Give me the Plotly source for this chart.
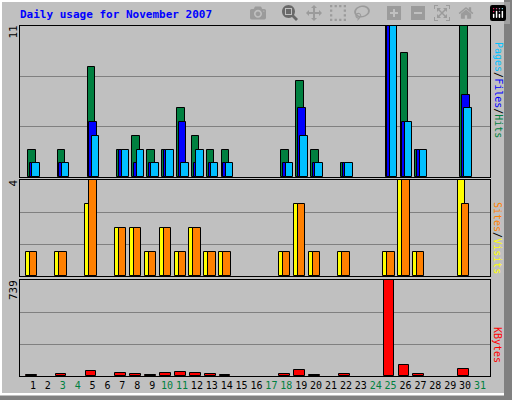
import plotly.graph_objects as go
from plotly.subplots import make_subplots

days = list(range(1, 32))
weekend = [3, 4, 10, 11, 17, 18, 24, 25, 31]

hits = [2,0,2,0,8,0,2,3,2,2,5,3,2,2,0,0,0,2,7,2,0,1,0,0,11,9,2,0,0,11,0]
files = [1,0,1,0,4,0,2,1,1,2,4,1,1,1,0,0,0,1,5,1,0,1,0,0,11,4,2,0,0,6,0]
pages = [1,0,1,0,3,0,2,2,1,2,1,2,1,1,0,0,0,1,3,1,0,1,0,0,11,4,2,0,0,5,0]
visits = [1,0,1,0,3,0,2,2,1,2,1,2,1,1,0,0,0,1,3,1,0,1,0,0,1,4,1,0,0,4,0]
sites = [1,0,1,0,4,0,2,2,1,2,1,2,1,1,0,0,0,1,3,1,0,1,0,0,1,4,1,0,0,3,0]
kbytes = [11,0,19,0,40,0,24,19,11,24,32,24,19,11,0,0,0,19,49,11,0,19,0,0,739,84,19,0,0,57,0]

BG = "#C0C0C0"
FONT = "DejaVu Sans Mono"
W, H = 512, 400

def yd(top, bot):
    return [1 - bot / H, 1 - top / H]

fig = make_subplots(rows=3, cols=1, shared_xaxes=True)
line = dict(color="black", width=1)

def bars(vals, color, offset, width, row):
    # days with no traffic get no bar at all
    vals = [v if v else None for v in vals]
    fig.add_trace(go.Bar(x=days, y=vals, offset=offset, width=width,
                         marker=dict(color=color, line=line)), row=row, col=1)

bars(hits, "#008040", -0.33, 0.5, 1)
bars(files, "#0000FF", -0.22, 0.52, 1)
bars(pages, "#00C0FF", -0.05, 0.5, 1)
bars(visits, "#FFFF00", -0.5, 0.5, 2)
bars(sites, "#FF8000", -0.23, 0.5, 2)
bars(kbytes, "#FF0000", -0.47, 0.72, 3)

maxes = [11, 4, 739]
doms = [yd(26, 177), yd(180, 276), yd(280, 376)]
for i in range(3):
    m = maxes[i]
    fig.update_yaxes(row=i + 1, col=1, domain=doms[i], range=[0, m * 1.0],
                     tickvals=[m / 3, 2 * m / 3], showticklabels=False,
                     gridcolor="#808080", gridwidth=1, zeroline=False,
                     showline=True, linecolor="black", mirror=True, ticks="")
    fig.add_annotation(xref="paper", yref="paper", x=13 / W, y=doms[i][1] + 0.005,
                       text=str(m), textangle=-90, showarrow=False,
                       xanchor="center", yanchor="top",
                       font=dict(family=FONT, size=11, color="black"))

ticktext = ['<span style="color:#008040">%d</span>' % d if d in weekend else str(d) for d in days]
fig.update_xaxes(domain=[20 / W, 490 / W], range=[0.13, 31.67], showgrid=False,
                 showline=True, linecolor="black", mirror=True, ticks="",
                 zeroline=False)
fig.update_xaxes(row=3, col=1, tickvals=days, ticktext=ticktext, tickangle=0,
                 tickfont=dict(family=FONT, size=10, color="black"))

def side(text, ymid):
    fig.add_annotation(xref="paper", yref="paper", x=498 / W, y=ymid, text=text,
                       textangle=90, showarrow=False, xanchor="center",
                       yanchor="middle", font=dict(family=FONT, size=10))

side('<span style="color:#00C0FF">Pages</span><span style="color:black">/</span>'
     '<span style="color:#0000FF">Files</span><span style="color:black">/</span>'
     '<span style="color:#008040">Hits</span>', 1 - 90 / H)
side('<span style="color:#FF8000">Sites</span><span style="color:black">/</span>'
     '<span style="color:#FFFF00">Visits</span>', 1 - 238 / H)
side('<span style="color:#FF0000">KBytes</span>', 1 - 345 / H)

fig.add_annotation(xref="paper", yref="paper", x=18 / W, y=1 - 15 / H,
                   text="<b>Daily usage for November 2007</b>", showarrow=False,
                   xanchor="left", yanchor="middle",
                   font=dict(family=FONT, size=11, color="#0000FF"))

# 3D style outer frame
fig.add_shape(type="rect", xref="paper", yref="paper", x0=1 / W, y0=6 / H,
              x1=505 / W, y1=1 - 1 / H, line=dict(color="white", width=2))
fig.add_shape(type="line", xref="paper", yref="paper", x0=508 / W, y0=0, x1=508 / W, y1=1,
              line=dict(color="#808080", width=8))
fig.add_shape(type="line", xref="paper", yref="paper", x0=0, y0=2 / H, x1=1, y1=2 / H,
              line=dict(color="#808080", width=4))

fig.update_layout(width=W, height=H, margin=dict(l=0, r=0, t=0, b=0),
                  paper_bgcolor=BG, plot_bgcolor=BG, barmode="overlay",
                  showlegend=False, bargap=0)
fig.write_html("out.html", post_script="document.body.style.margin='0';")
